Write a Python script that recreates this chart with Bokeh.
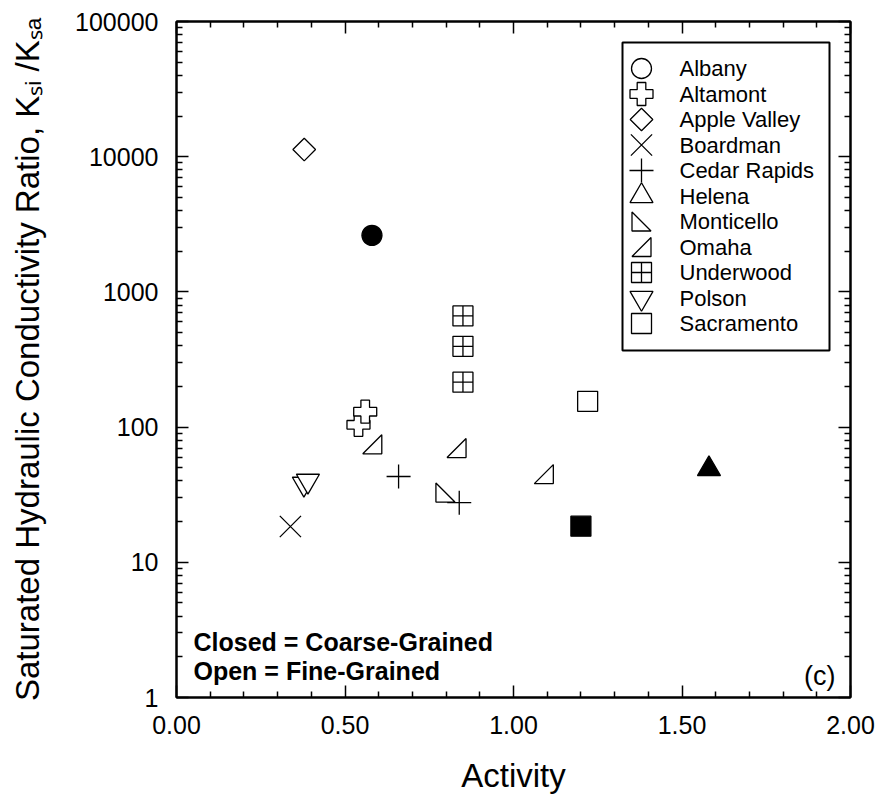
import math
from bokeh.plotting import figure
from bokeh.models import (Range1d, FixedTicker, NumeralTickFormatter, LinearAxis, LogAxis, Label,
                          LinearScale, CustomJSTickFormatter)
from bokeh.core.properties import value
from bokeh.embed import file_html
from bokeh.resources import INLINE

# ---------------- data ----------------
site_names = ["Albany", "Altamont", "Apple Valley", "Boardman", "Cedar Rapids", "Helena",
              "Monticello", "Omaha", "Underwood", "Polson", "Sacramento"]

albany_activity = [0.580]
albany_ratio = [2620]
albany_coarse = [True]

altamont_activity = [0.540, 0.560]
altamont_ratio = [104, 130]
altamont_coarse = [False, False]

apple_valley_activity = [0.379]
apple_valley_ratio = [11300]
apple_valley_coarse = [False]

boardman_activity = [0.338]
boardman_ratio = [18.4]
boardman_coarse = [False]

cedar_rapids_activity = [0.659, 0.839]
cedar_rapids_ratio = [43.1, 27.6]
cedar_rapids_coarse = [False, False]

helena_activity = [1.580]
helena_ratio = [49]
helena_coarse = [True]

monticello_activity = [0.798]
monticello_ratio = [32.8]
monticello_coarse = [False]

omaha_activity = [0.581, 0.831, 1.090]
omaha_ratio = [74.6, 70.0, 44.9]
omaha_coarse = [False, False, False]

underwood_activity = [0.850, 0.850, 0.850]
underwood_ratio = [664, 396, 215]
underwood_coarse = [False, False, False]

polson_activity = [0.378, 0.390]
polson_ratio = [38, 40]
polson_coarse = [False, False]

sacramento_activity = [1.220, 1.200]
sacramento_ratio = [155, 18.5]
sacramento_coarse = [False, True]

x_ticks = [0.0, 0.5, 1.0, 1.5, 2.0]
x_minor = [i / 10 for i in range(1, 20) if i % 5]
y_ticks = [1, 10, 100, 1000, 10000, 100000]
y_minor = [m * 10 ** k for k in range(5) for m in range(2, 10)]

x_title = "Activity"
y_title = "Saturated Hydraulic Conductivity Ratio, K\u209b\u1d62 /K\u209b\u2090"

# ---------------- layout ----------------
FW, FH = 674, 676
BL, BR, BT, BB = 176, 32, 21, 101
FONT = "Liberation Sans"
X0, X1 = 0.0, 2.0
Y0, Y1 = 1, 100000

p = figure(frame_width=FW, frame_height=FH, x_range=Range1d(X0, X1), y_range=Range1d(Y0, Y1),
           y_axis_type="log", output_backend="svg", toolbar_location=None,
           min_border_left=BL, min_border_right=BR, min_border_top=BT, min_border_bottom=BB,
           background_fill_color="white", border_fill_color="white",
           outline_line_color="black", outline_line_width=2)
p.xgrid.visible = False
p.ygrid.visible = False
p.extra_x_ranges = {"px": Range1d(0, FW)}
p.extra_y_ranges = {"px": Range1d(FH, 0)}
p.extra_x_scales = {"px": LinearScale()}
p.extra_y_scales = {"px": LinearScale()}

blank = CustomJSTickFormatter(code="return ''")


def style_axis(ax, show_labels=True):
    ax.axis_line_width = 2
    ax.axis_line_color = "black"
    ax.major_tick_in = 12
    ax.major_tick_out = 0
    ax.minor_tick_in = 6
    ax.minor_tick_out = 0
    ax.major_tick_line_width = 1.5
    ax.minor_tick_line_width = 1.5
    ax.major_tick_line_color = "black"
    ax.minor_tick_line_color = "black"
    ax.major_label_text_font = FONT
    ax.major_label_text_color = "black"
    ax.major_label_text_font_size = "25px"
    ax.axis_label_text_font = FONT
    ax.axis_label_text_font_size = "33px"
    ax.axis_label_text_font_style = "normal"
    ax.axis_label_text_color = "black"
    if not show_labels:
        ax.formatter = blank
        ax.major_label_text_font_size = "6px"
        ax.major_label_standoff = 0


xt = FixedTicker(ticks=x_ticks, minor_ticks=x_minor)
yt = FixedTicker(ticks=y_ticks, minor_ticks=y_minor)

xa = p.xaxis[0]
xa.ticker = xt
xa.formatter = NumeralTickFormatter(format="0.00")
style_axis(xa)
xa.major_label_standoff = 18
xa.axis_label = x_title
xa.axis_label_standoff = 20

ya = p.yaxis[0]
ya.ticker = yt
ya.formatter = NumeralTickFormatter(format="0")
style_axis(ya)
ya.major_label_standoff = 18
ya.axis_label = y_title
ya.axis_label_standoff = 26

ra = LogAxis(ticker=yt)
style_axis(ra, show_labels=False)
p.add_layout(ra, "right")
ta = LinearAxis(ticker=xt)
style_axis(ta, show_labels=False)
p.add_layout(ta, "above")

# ---------------- markers ----------------
LW = 1.3
marker_style = {
    "Albany": dict(marker="circle", size=20),
    "Altamont": dict(marker="plus", size=23),
    "Apple Valley": dict(marker="square", size=16, angle=math.pi / 4),
    "Boardman": dict(marker="x", size=30),
    "Cedar Rapids": dict(marker="cross", size=24),
    "Helena": dict(marker="triangle", size=23),
    "Monticello": None,
    "Omaha": None,
    "Underwood": dict(marker="square_cross", size=20),
    "Polson": dict(marker="inverted_triangle", size=23),
    "Sacramento": dict(marker="square", size=20),
}
right_tri_kind = {"Monticello": "left", "Omaha": "right"}

series = {
    "Albany": (albany_activity, albany_ratio, albany_coarse),
    "Altamont": (altamont_activity, altamont_ratio, altamont_coarse),
    "Apple Valley": (apple_valley_activity, apple_valley_ratio, apple_valley_coarse),
    "Boardman": (boardman_activity, boardman_ratio, boardman_coarse),
    "Cedar Rapids": (cedar_rapids_activity, cedar_rapids_ratio, cedar_rapids_coarse),
    "Helena": (helena_activity, helena_ratio, helena_coarse),
    "Monticello": (monticello_activity, monticello_ratio, monticello_coarse),
    "Omaha": (omaha_activity, omaha_ratio, omaha_coarse),
    "Underwood": (underwood_activity, underwood_ratio, underwood_coarse),
    "Polson": (polson_activity, polson_ratio, polson_coarse),
    "Sacramento": (sacramento_activity, sacramento_ratio, sacramento_coarse),
}

TRI_HALF = 9.5  # half leg of the right triangles, in pixels
px_per_x = FW / (X1 - X0)
px_per_dec = FH / (math.log10(Y1) - math.log10(Y0))


def tri_vertices(cx, cy, kind, hx, up, down):
    if kind == "right":  # right angle at bottom-right
        return [cx - hx, cx + hx, cx + hx], [down(cy), down(cy), up(cy)]
    return [cx - hx, cx - hx, cx + hx], [up(cy), down(cy), down(cy)]  # right angle bottom-left


for name in site_names:
    xs_all, ys_all, coarse = series[name]
    for fill_flag in (False, True):
        xs = [x for x, c in zip(xs_all, coarse) if c == fill_flag]
        ys = [y for y, c in zip(ys_all, coarse) if c == fill_flag]
        if not xs:
            continue
        fc = "black" if fill_flag else "white"
        st = marker_style[name]
        if st is not None:
            p.scatter(xs, ys, fill_color=fc, line_color="black", line_width=LW, **st)
        else:
            kind = right_tri_kind[name]
            f = 10 ** (TRI_HALF / px_per_dec)
            pxs, pys = [], []
            for x, y in zip(xs, ys):
                vx, vy = tri_vertices(x, y, kind, TRI_HALF / px_per_x, lambda v: v * f, lambda v: v / f)
                pxs.append(vx)
                pys.append(vy)
            p.patches(pxs, pys, fill_color=fc, line_color="black", line_width=LW)

# ---------------- legend (drawn in frame pixel coordinates) ----------------
LEG_L, LEG_R, LEG_T, LEG_B = 446, 653, 21, 329
LEG_SYM_X, LEG_TXT_X, LEG_Y0, LEG_DY = 465, 503, 47, 25.5
p.quad(left=[LEG_L], right=[LEG_R], top=[LEG_T], bottom=[LEG_B], x_range_name="px", y_range_name="px",
       fill_color="white", line_color="black", line_width=2)
leg_y = [LEG_Y0 + LEG_DY * i for i in range(len(site_names))]
for name, ly in zip(site_names, leg_y):
    st = marker_style[name]
    if st is not None:
        p.scatter([LEG_SYM_X], [ly], fill_color="white", line_color="black", line_width=LW,
                  x_range_name="px", y_range_name="px", **st)
    else:
        vx, vy = tri_vertices(LEG_SYM_X, ly, right_tri_kind[name], TRI_HALF,
                              lambda v: v - TRI_HALF, lambda v: v + TRI_HALF)
        p.patches([vx], [vy], fill_color="white", line_color="black", line_width=LW,
                  x_range_name="px", y_range_name="px")
p.text(x=[LEG_TXT_X] * len(site_names), y=leg_y, text=site_names, x_range_name="px", y_range_name="px",
       text_font=value(FONT), text_font_size=value("22px"), text_color="black",
       text_align="left", text_baseline="middle")

# ---------------- annotations ----------------
p.add_layout(Label(x=17, y=56, x_units="screen", y_units="screen", text="Closed = Coarse-Grained",
                   text_font=FONT, text_font_size="25px", text_font_style="bold",
                   text_color="black", text_baseline="alphabetic", text_align="left"))
p.add_layout(Label(x=17, y=27, x_units="screen", y_units="screen", text="Open = Fine-Grained",
                   text_font=FONT, text_font_size="25px", text_font_style="bold",
                   text_color="black", text_baseline="alphabetic", text_align="left"))
p.add_layout(Label(x=659, y=22, x_units="screen", y_units="screen", text="(c)",
                   text_font=FONT, text_font_size="27px", text_color="black",
                   text_baseline="alphabetic", text_align="right"))

open("out.html", "w").write(file_html(p, INLINE))
